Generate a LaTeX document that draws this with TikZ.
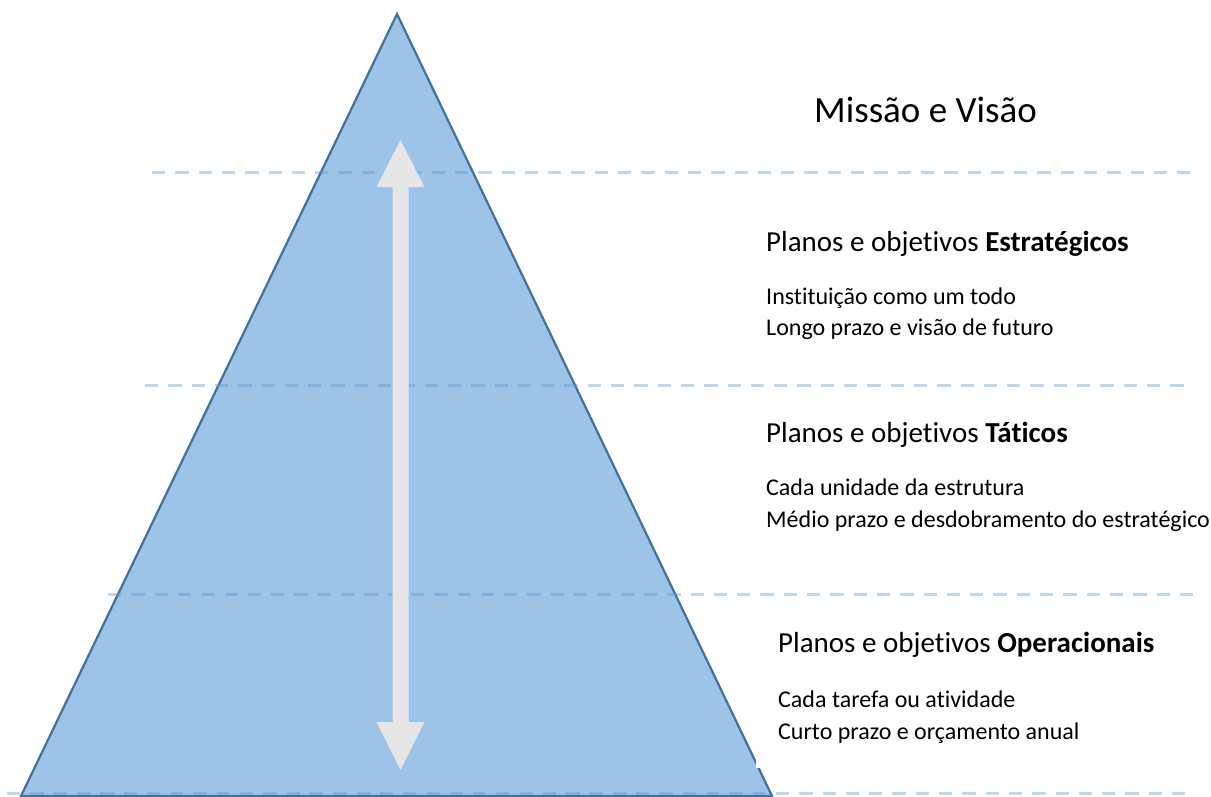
\documentclass[tikz,border=0pt]{standalone}
\usepackage{fontspec}
\setmainfont[Ligatures=NoCommon]{Carlito}
\definecolor{trifill}{RGB}{157,195,230}
\definecolor{triline}{RGB}{65,113,156}
\definecolor{dashblue}{RGB}{91,155,213}
\definecolor{arrowgray}{RGB}{231,230,230}
\begin{document}
\begin{tikzpicture}[x=1pt,y=-1pt,
  level/.style={draw=dashblue,draw opacity=0.4,line width=3pt,dash pattern=on 13.3pt off 10pt},
  title/.style={anchor=base west,inner sep=0pt,font=\fontsize{37}{44}\selectfont},
  heading/.style={anchor=base west,inner sep=0pt,font=\fontsize{29}{34}\selectfont},
  body/.style={anchor=base west,inner sep=0pt,font=\fontsize{24}{29}\selectfont}]
\useasboundingbox[fill=white] (0,0) rectangle (1211,796);
% pyramid
\coordinate (apex) at (397,14);
\coordinate (bl) at (21,796);
\coordinate (br) at (772,796);
\filldraw[fill=trifill,draw=triline,line width=2.2pt,line join=miter] (apex) -- (bl) -- (br) -- cycle;
% white text box covering the edge
\fill[white] (756,700) rectangle (1180,768);
% level lines
\draw[level] (152,172) -- (1190,172);
\draw[level] (145,385) -- (1185,385);
\draw[level] (108,594) -- (1195,594);
\draw[level] (7,793) -- (1190,793);
% double arrow
\coordinate (atop) at (400.5,140);
\coordinate (abot) at (400.5,770);
\fill[arrowgray] (atop) -- ++(24,47) -- ++(-16,0) -- (408.5,722) -- ++(16,0) -- (abot) -- (376.5,722) -- ++(16,0) -- (392.5,187) -- ++(-16,0) -- cycle;
% texts
\node[title] (mv) at (814,122) {Missão e Visão};
\node[heading] (h1) at (766,251) {Planos e objetivos \textbf{Estratégicos}};
\node[body] (b1a) at (766,304) {Instituição como um todo};
\node[body] (b1b) at (766,335) {Longo prazo e visão de futuro};
\node[heading] (h2) at (766,442) {Planos e objetivos \textbf{Táticos}};
\node[body] (b2a) at (766,495) {Cada unidade da estrutura};
\node[body] (b2b) at (766,527) {Médio prazo e desdobramento do estratégico};
\node[heading] (h3) at (778,652) {Planos e objetivos \textbf{Operacionais}};
\node[body] (b3a) at (778,707) {Cada tarefa ou atividade};
\node[body] (b3b) at (778,739) {Curto prazo e orçamento anual};
\end{tikzpicture}
\end{document}
